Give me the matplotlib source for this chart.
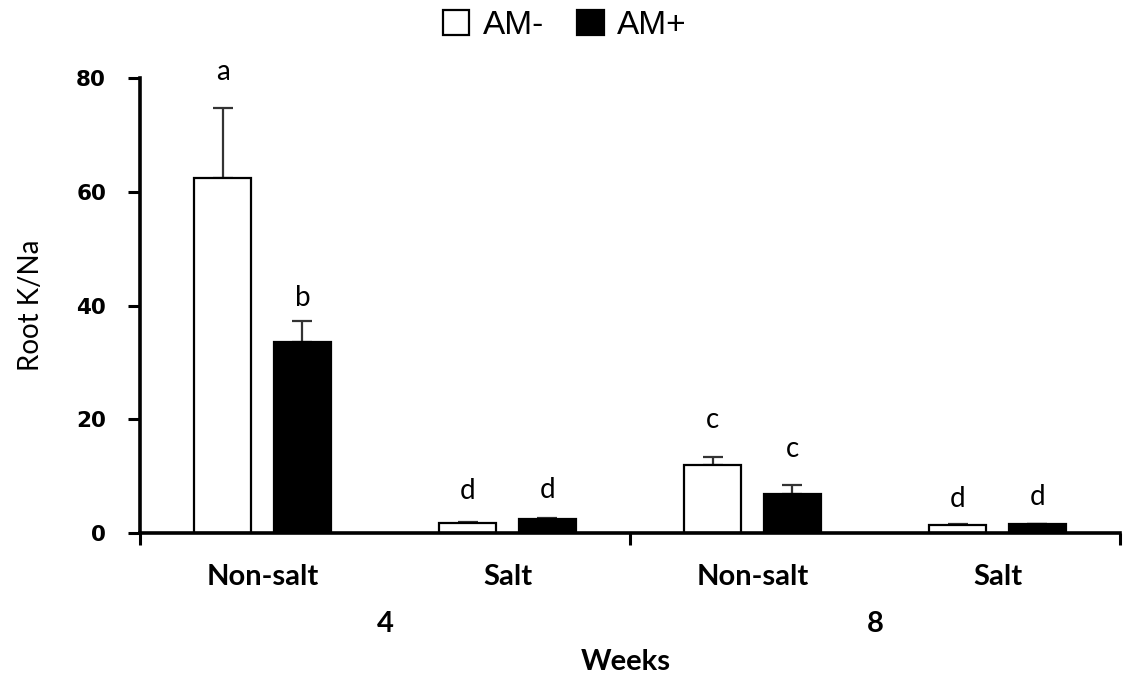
import matplotlib
matplotlib.use("Agg")
import matplotlib.pyplot as plt
import numpy as np

# ---- data ----
categories = ["Non-salt", "Salt", "Non-salt", "Salt"]
weeks = ["4", "8"]
am_minus = [62.5, 1.8, 11.9, 1.4]
am_minus_err = [12.3, 0.15, 1.4, 0.1]
am_plus = [33.6, 2.4, 6.8, 1.5]
am_plus_err = [3.7, 0.2, 1.7, 0.05]
letters_minus = ["a", "d", "c", "d"]
letters_plus = ["b", "d", "c", "d"]
series_names = ["AM-", "AM+"]

# ---- layout (annotation baselines in data units) ----
letter_y_minus = [79.6, 5.9, 18.4, 4.6]
letter_y_plus = [40.0, 6.2, 13.4, 5.0]

fig = plt.figure(figsize=(11.32, 6.83), dpi=100)
ax = fig.add_axes([0.1237, 0.2196, 0.8657, 0.6662])

x = np.arange(len(categories)) + 0.5
off = 0.163
w = 0.233

err_kw = dict(ecolor="#333333", elinewidth=1.6, capsize=7, capthick=1.6)
b1 = ax.bar(x - off, am_minus, w, color="white", edgecolor="black", linewidth=1.6,
            label=series_names[0], zorder=2)
ax.errorbar(x - off, am_minus, yerr=[np.zeros(4), am_minus_err], fmt="none", zorder=1, **err_kw)
b2 = ax.bar(x + off, am_plus, w, color="black", edgecolor="black", linewidth=1.6,
            label=series_names[1], zorder=2)
ax.errorbar(x + off, am_plus, yerr=[np.zeros(4), am_plus_err], fmt="none", zorder=1, **err_kw)

lfont = dict(family="Lato", fontsize=20)
for xi, lab, yy in zip(x - off, letters_minus, letter_y_minus):
    ax.text(xi, yy, lab, ha="center", va="baseline", clip_on=False, **lfont)
for xi, lab, yy in zip(x + off, letters_plus, letter_y_plus):
    ax.text(xi, yy, lab, ha="center", va="baseline", clip_on=False, **lfont)

ax.set_xlim(0, 4)
ax.set_ylim(0, 80)
ax.set_yticks([0, 20, 40, 60, 80])
ax.set_xticks([0, 2, 4])
ax.set_xticklabels([])
for s in ["top", "right"]:
    ax.spines[s].set_visible(False)
for s in ["left", "bottom"]:
    ax.spines[s].set_linewidth(2.6)
ax.tick_params(axis="both", which="major", length=8.5, width=2.2, direction="out")
ax.tick_params(axis="y", pad=16)
for t in ax.get_yticklabels():
    t.set_fontfamily("DejaVu Sans")
    t.set_fontweight("bold")
    t.set_fontsize(15.5)

# category labels
for xi, c in zip(x, categories):
    fig.text(ax.transData.transform((xi, 0))[0] / fig.bbox.width, 0.155, c,
             ha="center", va="center", family="Lato", fontweight="bold", fontsize=21)
for i, wk in enumerate(weeks):
    xc = (x[2 * i] + x[2 * i + 1]) / 2
    fig.text(ax.transData.transform((xc, 0))[0] / fig.bbox.width, 0.0864, wk,
             ha="center", va="center", family="Lato", fontweight="bold", fontsize=21)
fig.text(0.553, 0.031, "Weeks", ha="center", va="center", family="Lato",
         fontweight="bold", fontsize=21)

fig.text(0.027, 0.553, "Root K/Na", rotation=90, ha="center", va="center",
         family="Lato", fontsize=20)

leg = fig.legend(handles=[b1, b2], labels=series_names, loc="center",
                 bbox_to_anchor=(0.499, 0.963), ncol=2, frameon=False,
                 prop=dict(family="Liberation Sans", size=24),
                 handlelength=0.8, handleheight=0.8, handletextpad=0.4,
                 columnspacing=1.0)

fig.savefig("out.png", dpi=100)
